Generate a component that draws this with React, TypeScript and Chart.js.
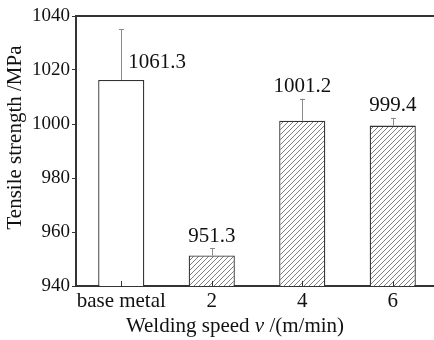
import React, { useEffect, useRef } from "react";
import { Chart, registerables } from "chart.js";

Chart.register(...registerables);

const categories = ["base metal", "2", "4", "6"];
const strengthValues = [1016.3, 951.3, 1001.2, 999.4];
const errorUpper = [18.9, 2.7, 8.2, 2.9];
const valueLabels = ["1061.3", "951.3", "1001.2", "999.4"];
const hatched = [false, true, true, true];
const yTicks = [940, 960, 980, 1000, 1020, 1040];

const SERIF = "'Liberation Serif', 'Times New Roman', serif";
const AXIS = "#333333";

function makeHatch(): CanvasPattern | string {
  const c = document.createElement("canvas");
  const s = 5;
  c.width = s;
  c.height = s;
  const g = c.getContext("2d");
  if (!g) return "#fff";
  g.fillStyle = "#ffffff";
  g.fillRect(0, 0, s, s);
  g.strokeStyle = "#707070";
  g.lineWidth = 0.9;
  g.beginPath();
  g.moveTo(-1, s + 1);
  g.lineTo(s + 1, -1);
  g.moveTo(-1, 1);
  g.lineTo(1, -1);
  g.moveTo(s - 1, s + 1);
  g.lineTo(s + 1, s - 1);
  g.stroke();
  const p = g.createPattern(c, "repeat");
  return p || "#fff";
}

const overlay = {
  id: "overlay",
  afterDatasetsDraw(chart: any) {
    const ctx = chart.ctx;
    const x = chart.scales.x;
    const y = chart.scales.y;
    const area = chart.chartArea;
    ctx.save();
    // error bars
    ctx.strokeStyle = "#8a8a8a";
    ctx.lineWidth = 1;
    strengthValues.forEach((v, i) => {
      const cx = Math.round(x.getPixelForValue(i)) + 0.5;
      const yb = y.getPixelForValue(v);
      const yt = y.getPixelForValue(v + errorUpper[i]);
      ctx.beginPath();
      ctx.moveTo(cx, yb);
      ctx.lineTo(cx, yt);
      ctx.moveTo(cx - 2.5, Math.round(yt) + 0.5);
      ctx.lineTo(cx + 2.5, Math.round(yt) + 0.5);
      ctx.stroke();
    });
    // value labels
    ctx.fillStyle = "#111";
    ctx.font = `21px ${SERIF}`;
    ctx.textBaseline = "alphabetic";
    strengthValues.forEach((v, i) => {
      const cx = x.getPixelForValue(i);
      if (i === 0) {
        ctx.textAlign = "left";
        ctx.fillText(valueLabels[i], cx + 7, y.getPixelForValue(v) - 12);
      } else {
        ctx.textAlign = "center";
        ctx.fillText(valueLabels[i], cx, y.getPixelForValue(v + errorUpper[i]) - 6.5);
      }
    });
    // frame: top line
    ctx.strokeStyle = AXIS;
    ctx.lineWidth = 2;
    ctx.beginPath();
    ctx.moveTo(area.left, area.top);
    ctx.lineTo(area.right, area.top);
    ctx.stroke();
    // inward x ticks
    ctx.lineWidth = 1;
    categories.forEach((_, i) => {
      const cx = Math.round(x.getPixelForValue(i)) + 0.5;
      ctx.beginPath();
      ctx.moveTo(cx, area.bottom);
      ctx.lineTo(cx, area.bottom - 5);
      ctx.stroke();
    });
    // axis titles
    ctx.fillStyle = "#111";
    ctx.font = `21px ${SERIF}`;
    ctx.save();
    ctx.translate(21, 137.5);
    ctx.rotate(-Math.PI / 2);
    ctx.textAlign = "center";
    ctx.textBaseline = "alphabetic";
    ctx.fillText("Tensile strength /MPa", 0, 0);
    ctx.restore();
    const parts = [
      { t: "Welding speed ", f: `21px ${SERIF}` },
      { t: "v", f: `italic 21px ${SERIF}` },
      { t: " /(m/min)", f: `21px ${SERIF}` },
    ];
    let total = 0;
    parts.forEach((p) => {
      ctx.font = p.f;
      total += ctx.measureText(p.t).width;
    });
    let px = 235 - total / 2;
    ctx.textAlign = "left";
    parts.forEach((p) => {
      ctx.font = p.f;
      ctx.fillText(p.t, px, 332);
      px += ctx.measureText(p.t).width;
    });
    ctx.restore();
  },
};

export default function App() {
  const ref = useRef<HTMLCanvasElement | null>(null);
  useEffect(() => {
    if (!ref.current) return;
    const hatch = makeHatch();
    const chart = new Chart(ref.current, {
      type: "bar",
      data: {
        labels: categories,
        datasets: [
          {
            data: strengthValues,
            backgroundColor: hatched.map((h) => (h ? hatch : "#ffffff")),
            borderColor: AXIS,
            borderWidth: 1.3,
            borderSkipped: "bottom",
            barPercentage: 0.51,
            categoryPercentage: 1,
          },
        ],
      },
      options: {
        responsive: false,
        animation: false,
        devicePixelRatio: 1,
        layout: { padding: { top: 16, right: 8, bottom: 0, left: 0 } },
        plugins: {
          legend: { display: false },
          tooltip: { enabled: false },
        },
        scales: {
          x: {
            grid: { display: false, drawTicks: false },
            border: { display: true, color: AXIS, width: 2 },
            ticks: {
              color: "#111",
              font: { family: SERIF, size: 21 },
              padding: 3,
              maxRotation: 0,
              autoSkip: false,
            },
            afterFit(scale: any) {
              scale.height = 54;
            },
          },
          y: {
            min: 940,
            max: 1040,
            afterBuildTicks(scale: any) {
              scale.ticks = yTicks.map((v) => ({ value: v }));
            },
            grid: {
              drawOnChartArea: false,
              drawTicks: true,
              tickLength: 4,
              color: AXIS,
              lineWidth: 1,
            },
            border: { display: true, color: AXIS, width: 2 },
            ticks: {
              color: "#111",
              font: { family: SERIF, size: 19 },
              padding: 2,
              callback: (v: any) => String(v),
            },
            afterFit(scale: any) {
              scale.width = 76;
            },
          },
        },
      },
      plugins: [overlay],
    });
    return () => chart.destroy();
  }, []);
  return (
    <div
      style={{
        position: "fixed",
        left: 0,
        top: 0,
        width: 434,
        height: 340,
        overflow: "hidden",
        background: "#fff",
      }}
    >
      <canvas ref={ref} width={446} height={340} style={{ display: "block", width: 446, height: 340 }} />
    </div>
  );
}
